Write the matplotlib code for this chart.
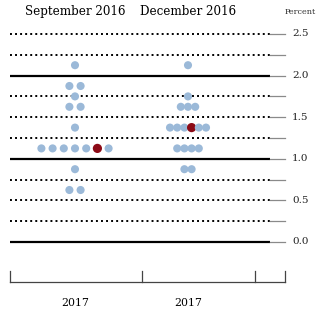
import matplotlib
matplotlib.use("Agg")
import matplotlib.pyplot as plt

# data: appropriate target federal funds rate at end of 2017, per participant
columns = ["September 2016", "December 2016"]
year_labels = ["2017", "2017"]
sep_rates = [2.125, 1.875, 1.75, 1.625, 1.375, 1.125, 0.875, 0.625]
sep_counts = [1, 2, 1, 2, 1, 7, 1, 2]
dec_rates = [2.125, 1.75, 1.625, 1.375, 1.125, 0.875]
dec_counts = [1, 1, 3, 6, 4, 2]
median_rate = [1.125, 1.375]
median_pos = [5, 3]  # index of the highlighted dot within its row
grid_levels = [0.0, 0.25, 0.5, 0.75, 1.0, 1.25, 1.5, 1.75, 2.0, 2.25, 2.5]
tick_labels = ["0.0", "0.5", "1.0", "1.5", "2.0", "2.5"]

W, H = 332, 331
px_per_unit = 83.2
y_zero_px = 242
top = (y_zero_px) / px_per_unit
bottom = -(H - y_zero_px) / px_per_unit

fig = plt.figure(figsize=(W / 100, H / 100), dpi=100)
ax = fig.add_axes([0, 0, 1, 1])
ax.set_xlim(0, W)
ax.set_ylim(bottom, top)
ax.axis("off")

font = "DejaVu Serif"
BLUE = "#9bb9d8"
RED = "#8c0a16"

# grid lines
for lv in grid_levels:
    if lv == int(lv):
        ax.plot([10, 270], [lv, lv], color="black", lw=1.6, solid_capstyle="butt")
    else:
        ax.plot([10, 270], [lv, lv], color="black", lw=1.4, dashes=(1, 1.6))
    ax.plot([270, 285], [lv, lv], color="#8a8a8a", lw=0.9)
for lab in tick_labels:
    ax.text(292, float(lab), lab, ha="left", va="center", fontsize=7.5,
            family=font, color="#222222")

# dots
centers = [75, 188]
spacing = [11.2, 7.2]
for ci, (rates, counts) in enumerate([(sep_rates, sep_counts), (dec_rates, dec_counts)]):
    for r, n in zip(rates, counts):
        xs = [centers[ci] + (k - (n - 1) / 2) * spacing[ci] for k in range(n)]
        sizes = [34] * n
        cols = [BLUE] * n
        if r == median_rate[ci]:
            cols[median_pos[ci]] = RED
            sizes[median_pos[ci]] = 44
        ax.scatter(xs, [r] * n, s=sizes, c=cols, edgecolors="none", zorder=3)

# column titles
for c, name in zip(centers, columns):
    ax.text(c, 2.765, name, ha="center", va="center", fontsize=8.6, family=font)
ax.text(300, 2.77, "Percent", ha="center", va="center", fontsize=5.8, family=font,
        color="#333333")

# bottom axis
y_axis = -40 / px_per_unit
y_tick = -29 / px_per_unit
ax.plot([10, 285], [y_axis, y_axis], color="#444444", lw=0.9)
for xt in [10, 142, 255, 285]:
    ax.plot([xt, xt], [y_axis, y_tick], color="#444444", lw=0.9)
for c, lab in zip(centers, year_labels):
    ax.text(c, -61 / px_per_unit, lab, ha="center", va="center", fontsize=7.8,
            family=font)

fig.savefig("out.png", dpi=100)
